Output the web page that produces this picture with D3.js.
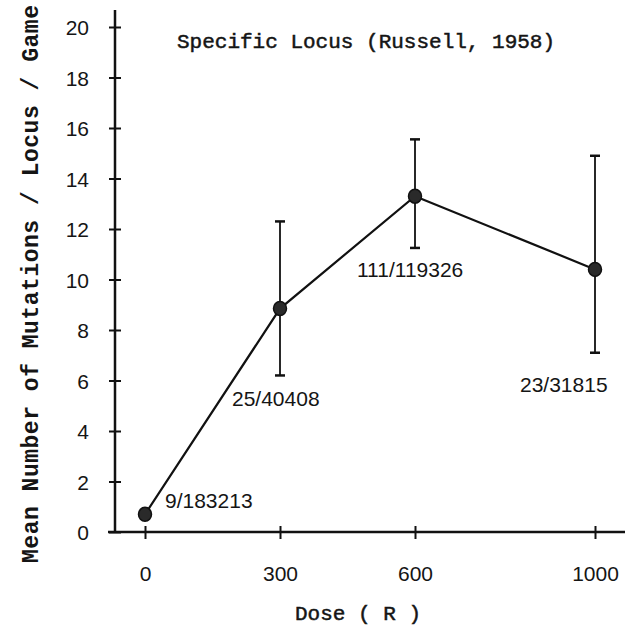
<!DOCTYPE html>
<html>
<head>
    <title>Specific Locus (Russell, 1958)</title>
    <script src="https://cdnjs.cloudflare.com/ajax/libs/d3/7.8.5/d3.min.js"></script>
    <style>
    body { margin:0; background:#fff; }
    svg { display:block; }
    .mono { font-family:"Liberation Mono", "DejaVu Sans Mono", monospace; fill:#151515; }
    .sans { font-family:"Liberation Sans", Arial, sans-serif; fill:#151515; }
    </style>
</head>
<body>
<div id="chart"></div>
<script>
// data (mutations per locus per gamete, x 10^-5)
var doses = [0, 300, 600, 1000];
var means = [0.7, 8.85, 13.3, 10.4];
var errLow = [null, 6.2, 11.25, 7.1];
var errHigh = [null, 12.3, 15.55, 14.9];
var counts = ['9/183213', '25/40408', '111/119326', '23/31815'];
var xTicks = [0, 300, 600, 1000];
var yTicks = [0, 2, 4, 6, 8, 10, 12, 14, 16, 18, 20];

var width = 625, height = 626;

var svg = d3.select('#chart').append('svg')
    .attr('width', width)
    .attr('height', height);

var x = d3.scaleLinear().domain([0, 1000]).range([145, 595]);
var y = d3.scaleLinear().domain([0, 20]).range([532, 27]);

// y axis
var yAxis = svg.append('g')
    .attr('transform', 'translate(115,0)')
    .call(d3.axisLeft(y).tickValues(yTicks).tickSize(6).tickPadding(20));
yAxis.select('.domain').remove();
yAxis.selectAll('.tick line').attr('x1', -6).attr('x2', 6)
    .attr('stroke', '#111').attr('stroke-width', 2);
yAxis.selectAll('.tick text').attr('class', 'sans')
    .style('font-size', '21px').attr('x', -26).attr('dy', '0.36em');
svg.append('line')
    .attr('x1', 115).attr('x2', 115)
    .attr('y1', 10).attr('y2', y(0) + 1)
    .attr('stroke', '#111').attr('stroke-width', 2.5);

// x axis
var xAxis = svg.append('g')
    .attr('transform', 'translate(0,' + y(0) + ')')
    .call(d3.axisBottom(x).tickValues(xTicks).tickFormat(d3.format('d'))
        .tickSize(6).tickPadding(28));
xAxis.select('.domain').remove();
xAxis.selectAll('.tick line').attr('y1', -6).attr('y2', 7)
    .attr('stroke', '#111').attr('stroke-width', 2);
xAxis.selectAll('.tick text').attr('class', 'sans')
    .style('font-size', '21px').attr('dy', '0.71em');
svg.append('line')
    .attr('x1', 108).attr('x2', width)
    .attr('y1', y(0)).attr('y2', y(0))
    .attr('stroke', '#111').attr('stroke-width', 2.5);

var pts = doses.map(function(d, i) {
    return {dose: d, mean: means[i], lo: errLow[i], hi: errHigh[i], label: counts[i]};
});

// error bars
var bars = pts.filter(function(p) { return p.lo !== null; });
svg.selectAll('.err').data(bars).enter().append('line')
    .attr('x1', function(p) { return x(p.dose); })
    .attr('x2', function(p) { return x(p.dose); })
    .attr('y1', function(p) { return y(p.lo); })
    .attr('y2', function(p) { return y(p.hi); })
    .attr('stroke', '#111').attr('stroke-width', 1.8);
['lo', 'hi'].forEach(function(k) {
    svg.selectAll('.cap-' + k).data(bars).enter().append('line')
        .attr('x1', function(p) { return x(p.dose) - 5; })
        .attr('x2', function(p) { return x(p.dose) + 5; })
        .attr('y1', function(p) { return y(p[k]); })
        .attr('y2', function(p) { return y(p[k]); })
        .attr('stroke', '#111').attr('stroke-width', 2.5);
});

// connecting line
var line = d3.line()
    .x(function(p) { return x(p.dose); })
    .y(function(p) { return y(p.mean); });
svg.append('path').datum(pts)
    .attr('d', line)
    .attr('fill', 'none')
    .attr('stroke', '#111')
    .attr('stroke-width', 2.2);

// markers
svg.selectAll('.pt').data(pts).enter().append('ellipse')
    .attr('cx', function(p) { return x(p.dose); })
    .attr('cy', function(p) { return y(p.mean); })
    .attr('rx', 6.5).attr('ry', 7)
    .attr('fill', '#2a2a2a')
    .attr('stroke', '#111').attr('stroke-width', 1.5);

// count labels next to each point
var labelPos = [[165, 508], [232, 406], [357, 277], [520, 392]];
svg.selectAll('.cnt').data(pts).enter().append('text')
    .attr('class', 'sans')
    .style('font-size', '21px')
    .attr('x', function(p, i) { return labelPos[i][0]; })
    .attr('y', function(p, i) { return labelPos[i][1]; })
    .text(function(p) { return p.label; });

// title and axis titles
svg.append('text').attr('class', 'mono')
    .style('font-size', '21px')
    .attr('stroke', '#151515').attr('stroke-width', 0.5)
    .attr('x', 177).attr('y', 48)
    .text('Specific Locus (Russell, 1958)');

svg.append('text').attr('class', 'mono')
    .style('font-size', '21px')
    .attr('stroke', '#151515').attr('stroke-width', 0.5)
    .attr('x', 295).attr('y', 620)
    .text('Dose ( R )');

svg.append('text').attr('class', 'mono')
    .style('font-size', '23px').style('font-weight', 'bold')
    .attr('textLength', 558).attr('lengthAdjust', 'spacing')
    .attr('transform', 'translate(38,563) rotate(-90)')
    .text('Mean Number of Mutations / Locus / Game');
</script>
</body>
</html>
